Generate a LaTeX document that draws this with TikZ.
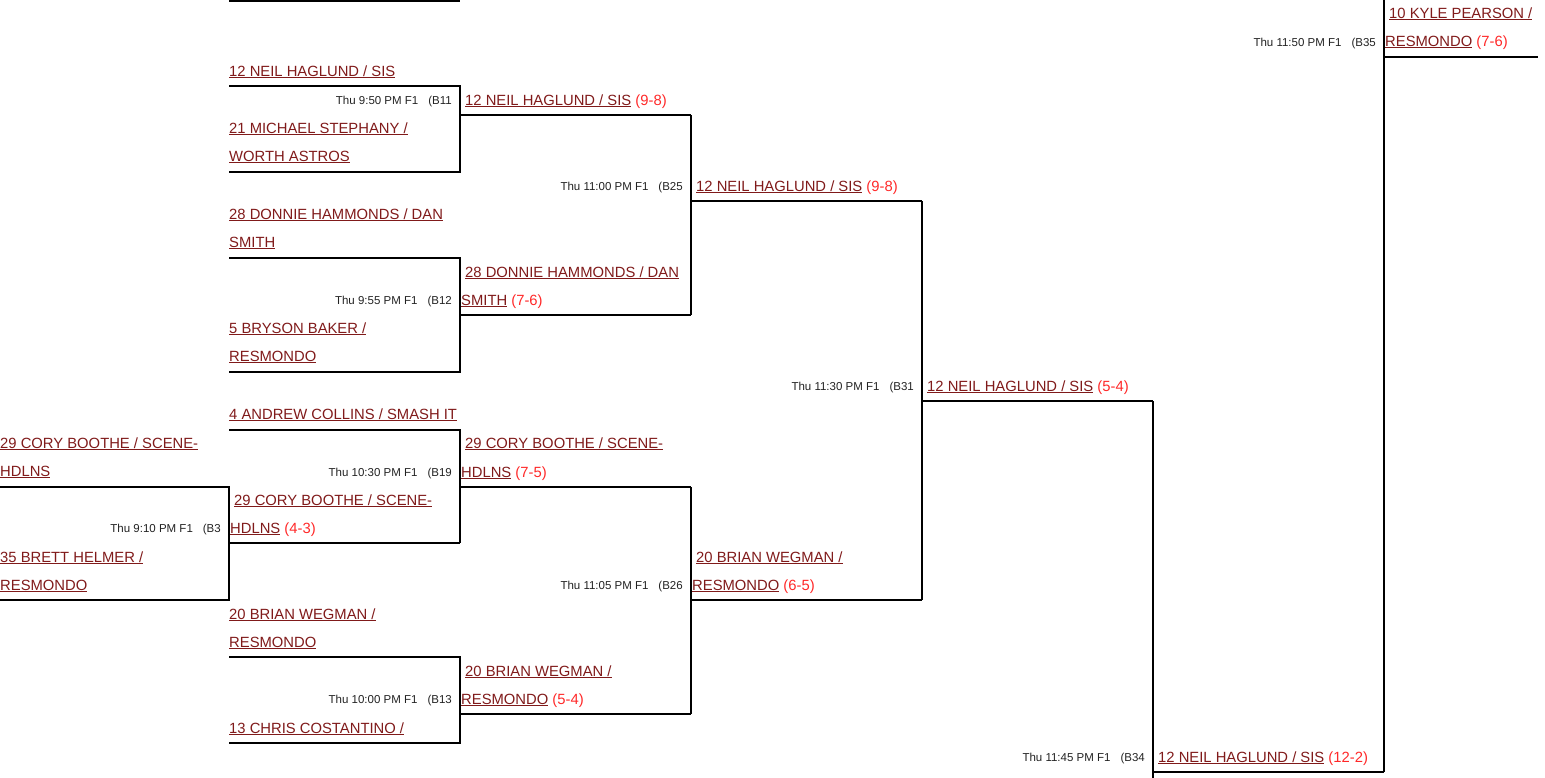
\documentclass[tikz,border=0pt]{standalone}
\usepackage{fontspec}
\setmainfont{Liberation Sans}
\usetikzlibrary{positioning}

\definecolor{teamred}{RGB}{128,26,26}
\definecolor{scorered}{RGB}{255,40,40}
\definecolor{timegray}{RGB}{34,34,34}

\newcommand{\uln}[1]{\sbox0{#1}\rlap{\rule[-2pt]{\wd0}{1pt}}\usebox0}
\newcommand{\gamescore}[1]{ \textcolor{scorered}{#1}}

\begin{document}
\begin{tikzpicture}[x=1pt, y=-1pt,
    team/.style={anchor=base west, inner sep=0pt, text=teamred, font=\fontsize{14.8}{18}\selectfont},
    when/.style={anchor=base east, inner sep=0pt, text=timegray, font=\fontsize{11.5}{14}\selectfont},
    bline/.style={line width=2pt, line join=miter}]
    \useasboundingbox (0,0) rectangle (1545,777);
    \clip (0,0) rectangle (1545,777);

    % stub of the bracket above
    \draw[bline] (229,1) -- (460,1);

    % B11
    \node[team] (b11p) at (229,76) {\uln{12 NEIL HAGLUND / SIS}};
    \node[team] (b11q) at (229,133) {\uln{21 MICHAEL STEPHANY /}};
    \node[team] (b11r) at (229,161) {\uln{WORTH ASTROS}};
    \node[when] (b11t) at (452,104) {Thu 9:50 PM F1\hspace{10pt}(B11};
    \draw[bline] (229,86) -- (460,86) -- (460,172) -- (229,172);
    \node[team] (b11w) at (465,105) {\uln{12 NEIL HAGLUND / SIS}\gamescore{(9-8)}};
    \draw[bline] (460,115) -- (691,115);

    % B12
    \node[team] (b12p) at (229,219) {\uln{28 DONNIE HAMMONDS / DAN}};
    \node[team] (b12p2) at (229,247) {\uln{SMITH}};
    \node[team] (b12q) at (229,333) {\uln{5 BRYSON BAKER /}};
    \node[team] (b12q2) at (229,361) {\uln{RESMONDO}};
    \node[when] (b12t) at (452,304) {Thu 9:55 PM F1\hspace{10pt}(B12};
    \draw[bline] (229,258) -- (460,258) -- (460,372) -- (229,372);
    \node[team] (b12w) at (465,277) {\uln{28 DONNIE HAMMONDS / DAN}};
    \node[team] (b12w2) at (461,305) {\uln{SMITH}\gamescore{(7-6)}};
    \draw[bline] (460,315) -- (691,315);

    % B25
    \node[when] (b25t) at (683,190) {Thu 11:00 PM F1\hspace{10pt}(B25};
    \draw[bline] (691,115) -- (691,315);
    \node[team] (b25w) at (696,191) {\uln{12 NEIL HAGLUND / SIS}\gamescore{(9-8)}};
    \draw[bline] (691,201) -- (922,201);

    % B3
    \node[team] (b3p) at (0,448) {\uln{29 CORY BOOTHE / SCENE-}};
    \node[team] (b3p2) at (0,476) {\uln{HDLNS}};
    \node[team] (b3q) at (0,562) {\uln{35 BRETT HELMER /}};
    \node[team] (b3q2) at (0,590) {\uln{RESMONDO}};
    \node[when] (b3t) at (221,532) {Thu 9:10 PM F1\hspace{10pt}(B3};
    \draw[bline] (0,487) -- (229,487) -- (229,600) -- (0,600);
    \node[team] (b3w) at (234,505) {\uln{29 CORY BOOTHE / SCENE-}};
    \node[team] (b3w2) at (230,533) {\uln{HDLNS}\gamescore{(4-3)}};
    \draw[bline] (229,543) -- (460,543);

    % B19
    \node[team] (b19p) at (229,419) {\uln{4 ANDREW COLLINS / SMASH IT}};
    \node[when] (b19t) at (452,476) {Thu 10:30 PM F1\hspace{10pt}(B19};
    \draw[bline] (229,430) -- (460,430) -- (460,543);
    \node[team] (b19w) at (465,448) {\uln{29 CORY BOOTHE / SCENE-}};
    \node[team] (b19w2) at (461,477) {\uln{HDLNS}\gamescore{(7-5)}};
    \draw[bline] (460,487) -- (691,487);

    % B13
    \node[team] (b13p) at (229,619) {\uln{20 BRIAN WEGMAN /}};
    \node[team] (b13p2) at (229,647) {\uln{RESMONDO}};
    \node[team] (b13q) at (229,733) {\uln{13 CHRIS COSTANTINO /}};
    \node[when] (b13t) at (452,703) {Thu 10:00 PM F1\hspace{10pt}(B13};
    \draw[bline] (229,657) -- (460,657) -- (460,743) -- (229,743);
    \node[team] (b13w) at (465,676) {\uln{20 BRIAN WEGMAN /}};
    \node[team] (b13w2) at (461,704) {\uln{RESMONDO}\gamescore{(5-4)}};
    \draw[bline] (460,714) -- (691,714);

    % B26
    \node[when] (b26t) at (683,589) {Thu 11:05 PM F1\hspace{10pt}(B26};
    \draw[bline] (691,487) -- (691,714);
    \node[team] (b26w) at (696,562) {\uln{20 BRIAN WEGMAN /}};
    \node[team] (b26w2) at (692,590) {\uln{RESMONDO}\gamescore{(6-5)}};
    \draw[bline] (691,600) -- (922,600);

    % B31
    \node[when] (b31t) at (914,390) {Thu 11:30 PM F1\hspace{10pt}(B31};
    \draw[bline] (922,201) -- (922,600);
    \node[team] (b31w) at (927,391) {\uln{12 NEIL HAGLUND / SIS}\gamescore{(5-4)}};
    \draw[bline] (922,401) -- (1153,401);

    % B34
    \node[when] (b34t) at (1145,761) {Thu 11:45 PM F1\hspace{10pt}(B34};
    \draw[bline] (1153,401) -- (1153,780);
    \node[team] (b34w) at (1158,762) {\uln{12 NEIL HAGLUND / SIS}\gamescore{(12-2)}};
    \draw[bline] (1153,772) -- (1384,772);

    % B35
    \node[when] (b35t) at (1376,46) {Thu 11:50 PM F1\hspace{10pt}(B35};
    \draw[bline] (1384,-5) -- (1384,772);
    \node[team] (b35w) at (1389,18) {\uln{10 KYLE PEARSON /}};
    \node[team] (b35w2) at (1385,46) {\uln{RESMONDO}\gamescore{(7-6)}};
    \draw[bline] (1384,57) -- (1538,57);
\end{tikzpicture}
\end{document}
